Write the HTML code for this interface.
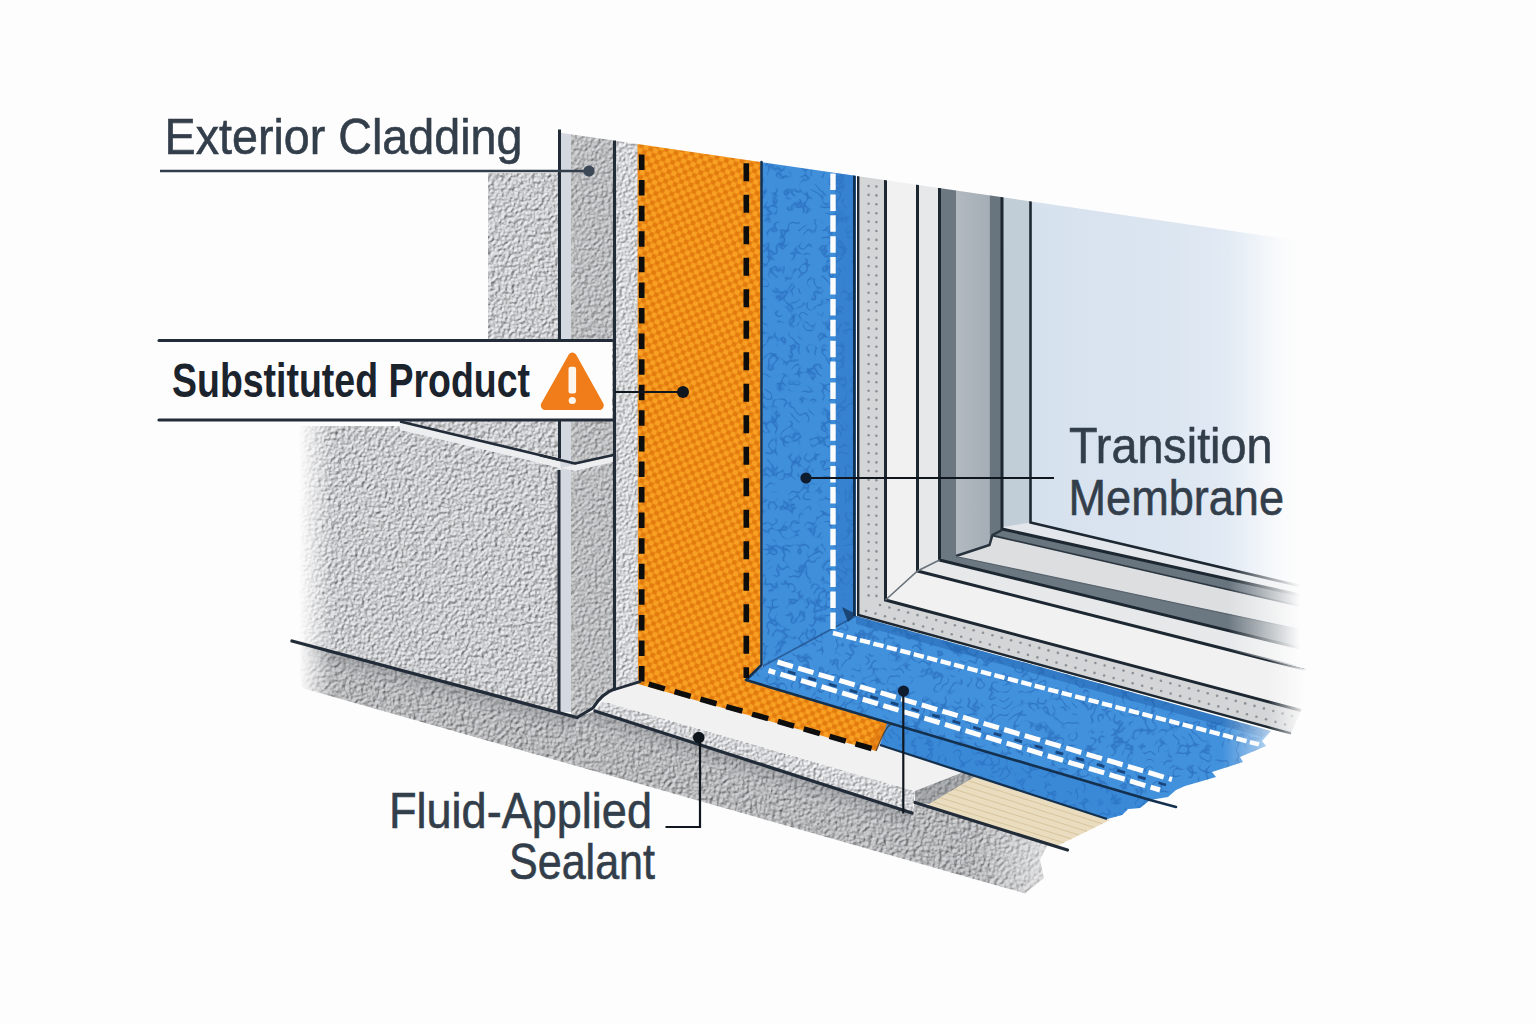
<!DOCTYPE html>
<html><head><meta charset="utf-8"><title>Window flashing detail</title>
<style>
html,body{margin:0;padding:0;background:#fdfdfd;}
body{width:1536px;height:1024px;overflow:hidden;font-family:"Liberation Sans",sans-serif;}
svg{display:block;font-family:"Liberation Sans",sans-serif;}
</style></head><body>
<svg width="1536" height="1024" viewBox="0 0 1536 1024">
<defs>

<filter id="stucco" x="0" y="0" width="100%" height="100%" color-interpolation-filters="sRGB">
  <feTurbulence type="fractalNoise" baseFrequency="0.3" numOctaves="2" seed="3" result="n"/>
  <feDiffuseLighting in="n" surfaceScale="1.55" diffuseConstant="0.945" lighting-color="#fbfcff" result="l">
    <feDistantLight azimuth="225" elevation="60"/>
  </feDiffuseLighting>
  <feComposite in="l" in2="SourceGraphic" operator="in"/>
</filter>
<filter id="stuccoL" x="0" y="0" width="100%" height="100%" color-interpolation-filters="sRGB">
  <feTurbulence type="fractalNoise" baseFrequency="0.33" numOctaves="2" seed="8" result="n"/>
  <feDiffuseLighting in="n" surfaceScale="1.3" diffuseConstant="0.985" lighting-color="#fbfcff" result="l">
    <feDistantLight azimuth="225" elevation="60"/>
  </feDiffuseLighting>
  <feComposite in="l" in2="SourceGraphic" operator="in"/>
</filter>
<filter id="stuccoD" x="0" y="0" width="100%" height="100%" color-interpolation-filters="sRGB">
  <feTurbulence type="fractalNoise" baseFrequency="0.3" numOctaves="2" seed="5" result="n"/>
  <feDiffuseLighting in="n" surfaceScale="1.3" diffuseConstant="0.87" lighting-color="#fbfcff" result="l">
    <feDistantLight azimuth="225" elevation="60"/>
  </feDiffuseLighting>
  <feComposite in="l" in2="SourceGraphic" operator="in"/>
</filter>
<filter id="stuccoB" x="0" y="0" width="100%" height="100%" color-interpolation-filters="sRGB">
  <feTurbulence type="fractalNoise" baseFrequency="0.27" numOctaves="2" seed="9" result="n"/>
  <feDiffuseLighting in="n" surfaceScale="1.6" diffuseConstant="0.85" lighting-color="#fbfcff" result="l">
    <feDistantLight azimuth="225" elevation="60"/>
  </feDiffuseLighting>
  <feComposite in="l" in2="SourceGraphic" operator="in"/>
</filter>
<filter id="bluetex" x="0" y="0" width="100%" height="100%" color-interpolation-filters="sRGB">
  <feTurbulence type="fractalNoise" baseFrequency="0.13" numOctaves="1" seed="11" result="n"/>
  <feColorMatrix in="n" type="matrix" values="0 0 0 0 0.13  0 0 0 0 0.38  0 0 0 0 0.70  1 0 0 0 0" result="a"/>
  <feComponentTransfer in="a" result="b"><feFuncA type="table" tableValues="0 0 0 0 0 0 0.6 0 0 0 0 0 0"/></feComponentTransfer>
  <feTurbulence type="fractalNoise" baseFrequency="0.09" numOctaves="1" seed="23" result="n2"/>
  <feColorMatrix in="n2" type="matrix" values="0 0 0 0 0  0 0 0 0 0  0 0 0 0 0  0 1 0 0 0" result="a2"/>
  <feComponentTransfer in="a2" result="m"><feFuncA type="table" tableValues="0 0 0 0 0 0 1 1 1 1 1 1"/></feComponentTransfer>
  <feComposite in="b" in2="m" operator="in" result="arcs"/>
  <feComposite in="arcs" in2="SourceGraphic" operator="in" result="dd"/>
  <feMerge><feMergeNode in="SourceGraphic"/><feMergeNode in="dd"/></feMerge>
</filter>
<pattern id="weave" width="10" height="10" patternUnits="userSpaceOnUse" patternTransform="rotate(20)">
  <rect width="10" height="10" fill="#ee8a14"/>
  <circle cx="2.5" cy="2.5" r="2.6" fill="#f8a024"/>
  <circle cx="7.5" cy="7.5" r="2.6" fill="#f8a024"/>
  <circle cx="7.5" cy="2.5" r="2.3" fill="#e27b0e"/>
  <circle cx="2.5" cy="7.5" r="2.3" fill="#e27b0e"/>
</pattern>
<pattern id="dots" width="9.5" height="9.5" patternUnits="userSpaceOnUse" x="863" y="180">
  <rect width="9.5" height="9.5" fill="#d4d5d7"/>
  <circle cx="4.75" cy="4.75" r="1.35" fill="#8f9295"/>
</pattern>
<linearGradient id="glass" gradientUnits="userSpaceOnUse" x1="1031" y1="0" x2="1300" y2="0">
  <stop offset="0" stop-color="#d6e1ee"/>
  <stop offset="0.55" stop-color="#dce6f1"/>
  <stop offset="0.85" stop-color="#e6edf6"/>
  <stop offset="1" stop-color="#f4f7fb"/>
</linearGradient>
<linearGradient id="fadeR" gradientUnits="userSpaceOnUse" x1="1228" y1="0" x2="1300" y2="0">
  <stop offset="0" stop-color="#fdfdfd" stop-opacity="0"/>
  <stop offset="1" stop-color="#fdfdfd" stop-opacity="1"/>
</linearGradient>
<linearGradient id="fadeR2" gradientUnits="userSpaceOnUse" x1="1268" y1="0" x2="1306" y2="0">
  <stop offset="0" stop-color="#fdfdfd" stop-opacity="0"/>
  <stop offset="1" stop-color="#fdfdfd" stop-opacity="1"/>
</linearGradient>
<linearGradient id="baseShade" gradientUnits="userSpaceOnUse" x1="292" y1="641" x2="287.3" y2="658.4">
  <stop offset="0" stop-color="#70757a" stop-opacity="0.38"/>
  <stop offset="1" stop-color="#70757a" stop-opacity="0"/>
</linearGradient>
<linearGradient id="baseShade2" gradientUnits="userSpaceOnUse" x1="595" y1="711" x2="589.5" y2="728.1">
  <stop offset="0" stop-color="#70757a" stop-opacity="0.38"/>
  <stop offset="1" stop-color="#70757a" stop-opacity="0"/>
</linearGradient>
<linearGradient id="fadeB1" gradientUnits="userSpaceOnUse" x1="1222" y1="0" x2="1278" y2="0">
  <stop offset="0" stop-color="#fdfdfd" stop-opacity="0"/>
  <stop offset="1" stop-color="#fdfdfd" stop-opacity="0.72"/>
</linearGradient>
<linearGradient id="fadeB2" gradientUnits="userSpaceOnUse" x1="1170" y1="740" x2="1189" y2="776">
  <stop offset="0" stop-color="#fdfdfd" stop-opacity="0"/>
  <stop offset="1" stop-color="#fdfdfd" stop-opacity="0.5"/>
</linearGradient>
<linearGradient id="fadeBase" gradientUnits="userSpaceOnUse" x1="975" y1="0" x2="1048" y2="0">
  <stop offset="0" stop-color="#fdfdfd" stop-opacity="0"/>
  <stop offset="1" stop-color="#fdfdfd" stop-opacity="0.55"/>
</linearGradient>
<linearGradient id="fadeL" gradientUnits="userSpaceOnUse" x1="299" y1="0" x2="332" y2="0">
  <stop offset="0" stop-color="#fdfdfd" stop-opacity="1"/>
  <stop offset="1" stop-color="#fdfdfd" stop-opacity="0"/>
</linearGradient>
<linearGradient id="medgray" gradientUnits="userSpaceOnUse" x1="956" y1="0" x2="989" y2="0">
  <stop offset="0" stop-color="#b2bac0"/><stop offset="1" stop-color="#a5aeb6"/>
</linearGradient>
<clipPath id="wall"><polygon points="540.0,129.7 1330.0,245.1 1330.0,1024.0 540.0,1024.0"/></clipPath></defs>
<rect width="1536" height="1024" fill="#fdfdfd"/>
<polygon points="292.0,641.0 577.0,717.5 595.0,711.0 912.0,813.0 915.0,802.5 1048.0,844.0 1040.0,860.0 1044.0,878.0 1025.0,893.5 302.0,688.0" fill="#c9cbcd" filter="url(#stuccoB)"/>
<polygon points="292.0,641.0 577.0,717.5 572.0,737.0 287.0,660.0" fill="url(#baseShade)"/>
<rect x="970" y="800" width="90" height="110" fill="url(#fadeBase)"/>
<polygon points="577.0,717.5 595.0,711.0 912.0,813.0 906.0,832.0 572.0,737.0" fill="url(#baseShade2)"/>
<polygon points="488.0,173.0 560.0,173.0 560.0,458.0 400.0,421.0 488.0,421.0" fill="#cfd1d3" filter="url(#stucco)"/>
<polygon points="296.0,426.0 400.0,426.0 560.0,468.0 560.0,713.0 292.0,641.0" fill="#cfd1d3" filter="url(#stucco)"/>
<polygon points="400.0,422.0 575.0,463.5 613.0,455.0 613.0,462.0 575.0,471.0 400.0,430.0" fill="#eceef0"/>
<polyline points="400.0,421.5 575.0,463.5 613.5,455.0" fill="none" stroke="#222c38" stroke-width="2.6" stroke-linejoin="round"/>
<g clip-path="url(#wall)">
<rect x="560.5" y="120" width="10.5" height="592" fill="#d4d8e0"/>
<polygon points="571.0,120.0 613.5,120.0 613.5,689.0 606.0,693.0 598.0,700.0 592.0,709.0 577.0,717.5 571.0,716.0" fill="#c4c6c8" filter="url(#stuccoD)"/>
<polygon points="615.5,120.0 638.0,120.0 638.0,684.0 615.5,690.0" fill="#d4d6d8" filter="url(#stuccoL)"/>
</g>
<polygon points="575.0,464.5 613.0,456.0 613.0,462.0 575.0,471.0 561.0,468.0" fill="#eceef0"/>
<polyline points="540.0,455.2 575.0,463.5 613.5,455.0" fill="none" stroke="#222c38" stroke-width="2.6" stroke-linejoin="round"/>
<polygon points="594.0,711.0 602.5,701.0 915.0,791.0 912.0,813.5" fill="#c9cbcd" filter="url(#stuccoL)"/>
<polygon points="613.5,689.0 638.5,682.5 876.0,751.0 880.0,745.0 962.5,772.5 915.0,791.0 602.5,701.0 606.0,694.0" fill="#f1f1f1"/>
<polygon points="915.0,791.0 962.5,772.5 976.0,777.0 930.0,804.0 915.0,802.5" fill="#b4b6b9" filter="url(#stuccoD)"/>
<polygon points="915.0,791.0 962.5,772.5 976.0,777.0 930.0,804.0 915.0,802.5" fill="#5d6267" opacity="0.3"/>
<polygon points="926.0,806.0 975.0,776.5 1110.0,820.0 1056.0,846.5" fill="#e9dcbf"/>
<line x1="933.0" y1="801.8" x2="1063.7" y2="842.7" stroke="#d8c59d" stroke-width="1"/>
<line x1="940.0" y1="797.6" x2="1071.4" y2="838.9" stroke="#d8c59d" stroke-width="1"/>
<line x1="947.0" y1="793.4" x2="1079.1" y2="835.1" stroke="#d8c59d" stroke-width="1"/>
<line x1="954.0" y1="789.1" x2="1086.9" y2="831.4" stroke="#d8c59d" stroke-width="1"/>
<line x1="961.0" y1="784.9" x2="1094.6" y2="827.6" stroke="#d8c59d" stroke-width="1"/>
<line x1="968.0" y1="780.7" x2="1102.3" y2="823.8" stroke="#d8c59d" stroke-width="1"/>
<g clip-path="url(#wall)">
<path d="M637.5,120 L760.5,120 L760.5,664 L746,680 L892,723.3 C885,727 881,740 876,751 L638,684 Z" fill="url(#weave)"/>
</g>
<path d="M892,723.3 C885,727 881,740 876,751 L868,748.5 C872,738 877,727 884,721 Z" fill="#d9720f" opacity="0.5"/>
<g clip-path="url(#wall)">
<polygon points="762.0,120.0 856.0,120.0 856.0,616.0 763.0,666.0" fill="#3f8fdb" filter="url(#bluetex)"/>
<polygon points="835.0,120.0 856.0,120.0 856.0,616.0 835.0,628.0" fill="#2f78c6" opacity="0.55"/>
</g>
<polygon points="763.0,666.0 856.0,616.0 1271.0,731.0 1262.0,741.0 1266.0,746.0 1240.0,757.0 1243.0,762.0 1212.0,772.0 1216.0,777.0 1185.0,786.0 1176.0,790.0 1168.0,797.0 1150.0,800.0 1140.0,808.0 1128.0,809.0 1122.0,815.0 1107.0,819.0 880.0,745.0 887.5,722.0 746.0,680.0" fill="#4291dc" filter="url(#bluetex)"/>
<polygon points="887.5,722.5 1150.0,800.0 1140.0,808.0 1128.0,809.0 1122.0,815.0 1107.0,819.0 880.0,745.0" fill="#2a78cc" opacity="0.32"/>
<polygon points="856.0,616.0 1271.0,731.0 1262.0,737.0 856.0,624.0" fill="#1f5fa8" opacity="0.45"/>
<polyline points="761.5,162.1 761.5,665.0 746.0,680.0 887.5,722.5 1150.0,800.0 1176.0,807.0" fill="none" stroke="#14304f" stroke-width="2.6" stroke-linejoin="round" stroke-linecap="round"/>
<polyline points="880.0,745.0 1107.0,819.0" fill="none" stroke="#14304f" stroke-width="2.2"/>
<line x1="763" y1="666" x2="856" y2="616" stroke="#1d4f8c" stroke-width="1.6" opacity="0.8"/>
<path d="M892,723.3 C885,727 881,740 876,751" fill="none" stroke="#3a2a18" stroke-width="1.4" opacity="0.7"/>
<line x1="833" y1="173.5" x2="833" y2="632" stroke="#fdfdfd" stroke-width="5.4" stroke-dasharray="16.5 4.4"/>
<line x1="833" y1="633" x2="1259" y2="744.4" stroke="#fdfdfd" stroke-width="4.4" stroke-dasharray="10.5 3.4"/>
<line x1="777.5" y1="662" x2="1172" y2="779.5" stroke="#fdfdfd" stroke-width="5" stroke-dasharray="16 5.5"/>
<line x1="768.5" y1="670.5" x2="1160" y2="790" stroke="#fdfdfd" stroke-width="5" stroke-dasharray="16 5.5" stroke-dashoffset="9"/>
<line x1="784" y1="670.5" x2="1166" y2="785" stroke="#123a6e" stroke-width="2.8" stroke-dasharray="8 13.5" stroke-dashoffset="-4" opacity="0.85"/>
<line x1="641.7" y1="154.5" x2="641.7" y2="681.6" stroke="#0d0d0d" stroke-width="5.7" stroke-dasharray="15.5 10.08"/>
<line x1="746.3" y1="163.3" x2="746.3" y2="678" stroke="#0d0d0d" stroke-width="5.6" stroke-dasharray="18 13.5"/>
<line x1="648.7" y1="684.2" x2="873" y2="748.9" stroke="#0d0d0d" stroke-width="5.5" stroke-dasharray="16.8 10.1"/>
<polygon points="1195.0,690.0 1290.0,720.0 1290.0,770.0 1195.0,790.0" fill="url(#fadeB1)"/>
<g clip-path="url(#wall)">
<polygon points="858.0,120.0 885.5,120.0 885.5,600.0 1301.0,710.5 1291.0,733.4 856.5,615.0" fill="#d4d5d7"/>
<g fill="#8d9094"><circle cx="868.6" cy="186.0" r="1.3"/><circle cx="876.4" cy="186.5" r="1.3"/><circle cx="868.6" cy="194.9" r="1.3"/><circle cx="876.4" cy="195.4" r="1.3"/><circle cx="868.6" cy="203.8" r="1.3"/><circle cx="876.4" cy="204.3" r="1.3"/><circle cx="868.6" cy="212.7" r="1.3"/><circle cx="876.4" cy="213.2" r="1.3"/><circle cx="868.6" cy="221.6" r="1.3"/><circle cx="876.4" cy="222.1" r="1.3"/><circle cx="868.6" cy="230.5" r="1.3"/><circle cx="876.4" cy="231.0" r="1.3"/><circle cx="868.6" cy="239.4" r="1.3"/><circle cx="876.4" cy="239.9" r="1.3"/><circle cx="868.6" cy="248.3" r="1.3"/><circle cx="876.4" cy="248.8" r="1.3"/><circle cx="868.6" cy="257.2" r="1.3"/><circle cx="876.4" cy="257.7" r="1.3"/><circle cx="868.6" cy="266.1" r="1.3"/><circle cx="876.4" cy="266.6" r="1.3"/><circle cx="868.6" cy="275.0" r="1.3"/><circle cx="876.4" cy="275.5" r="1.3"/><circle cx="868.6" cy="283.9" r="1.3"/><circle cx="876.4" cy="284.4" r="1.3"/><circle cx="868.6" cy="292.8" r="1.3"/><circle cx="876.4" cy="293.3" r="1.3"/><circle cx="868.6" cy="301.7" r="1.3"/><circle cx="876.4" cy="302.2" r="1.3"/><circle cx="868.6" cy="310.6" r="1.3"/><circle cx="876.4" cy="311.1" r="1.3"/><circle cx="868.6" cy="319.5" r="1.3"/><circle cx="876.4" cy="320.0" r="1.3"/><circle cx="868.6" cy="328.4" r="1.3"/><circle cx="876.4" cy="328.9" r="1.3"/><circle cx="868.6" cy="337.3" r="1.3"/><circle cx="876.4" cy="337.8" r="1.3"/><circle cx="868.6" cy="346.2" r="1.3"/><circle cx="876.4" cy="346.7" r="1.3"/><circle cx="868.6" cy="355.1" r="1.3"/><circle cx="876.4" cy="355.6" r="1.3"/><circle cx="868.6" cy="364.0" r="1.3"/><circle cx="876.4" cy="364.5" r="1.3"/><circle cx="868.6" cy="372.9" r="1.3"/><circle cx="876.4" cy="373.4" r="1.3"/><circle cx="868.6" cy="381.8" r="1.3"/><circle cx="876.4" cy="382.3" r="1.3"/><circle cx="868.6" cy="390.7" r="1.3"/><circle cx="876.4" cy="391.2" r="1.3"/><circle cx="868.6" cy="399.6" r="1.3"/><circle cx="876.4" cy="400.1" r="1.3"/><circle cx="868.6" cy="408.5" r="1.3"/><circle cx="876.4" cy="409.0" r="1.3"/><circle cx="868.6" cy="417.4" r="1.3"/><circle cx="876.4" cy="417.9" r="1.3"/><circle cx="868.6" cy="426.3" r="1.3"/><circle cx="876.4" cy="426.8" r="1.3"/><circle cx="868.6" cy="435.2" r="1.3"/><circle cx="876.4" cy="435.7" r="1.3"/><circle cx="868.6" cy="444.1" r="1.3"/><circle cx="876.4" cy="444.6" r="1.3"/><circle cx="868.6" cy="453.0" r="1.3"/><circle cx="876.4" cy="453.5" r="1.3"/><circle cx="868.6" cy="461.9" r="1.3"/><circle cx="876.4" cy="462.4" r="1.3"/><circle cx="868.6" cy="470.8" r="1.3"/><circle cx="876.4" cy="471.3" r="1.3"/><circle cx="868.6" cy="479.7" r="1.3"/><circle cx="876.4" cy="480.2" r="1.3"/><circle cx="868.6" cy="488.6" r="1.3"/><circle cx="876.4" cy="489.1" r="1.3"/><circle cx="868.6" cy="497.5" r="1.3"/><circle cx="876.4" cy="498.0" r="1.3"/><circle cx="868.6" cy="506.4" r="1.3"/><circle cx="876.4" cy="506.9" r="1.3"/><circle cx="868.6" cy="515.3" r="1.3"/><circle cx="876.4" cy="515.8" r="1.3"/><circle cx="868.6" cy="524.2" r="1.3"/><circle cx="876.4" cy="524.7" r="1.3"/><circle cx="868.6" cy="533.1" r="1.3"/><circle cx="876.4" cy="533.6" r="1.3"/><circle cx="868.6" cy="542.0" r="1.3"/><circle cx="876.4" cy="542.5" r="1.3"/><circle cx="868.6" cy="550.9" r="1.3"/><circle cx="876.4" cy="551.4" r="1.3"/><circle cx="868.6" cy="559.8" r="1.3"/><circle cx="876.4" cy="560.3" r="1.3"/><circle cx="868.6" cy="568.7" r="1.3"/><circle cx="876.4" cy="569.2" r="1.3"/><circle cx="868.6" cy="577.6" r="1.3"/><circle cx="876.4" cy="578.1" r="1.3"/><circle cx="868.6" cy="586.5" r="1.3"/><circle cx="876.4" cy="587.0" r="1.3"/><circle cx="868.6" cy="595.4" r="1.3"/><circle cx="876.4" cy="595.9" r="1.3"/><circle cx="866.0" cy="611.0" r="1.3"/><circle cx="875.5" cy="613.6" r="1.3"/><circle cx="885.0" cy="616.2" r="1.3"/><circle cx="894.6" cy="618.7" r="1.3"/><circle cx="904.1" cy="621.3" r="1.3"/><circle cx="913.6" cy="623.9" r="1.3"/><circle cx="923.1" cy="626.5" r="1.3"/><circle cx="932.7" cy="629.1" r="1.3"/><circle cx="942.2" cy="631.6" r="1.3"/><circle cx="951.7" cy="634.2" r="1.3"/><circle cx="961.2" cy="636.8" r="1.3"/><circle cx="970.8" cy="639.4" r="1.3"/><circle cx="980.3" cy="642.0" r="1.3"/><circle cx="989.8" cy="644.5" r="1.3"/><circle cx="999.3" cy="647.1" r="1.3"/><circle cx="1008.8" cy="649.7" r="1.3"/><circle cx="1018.4" cy="652.3" r="1.3"/><circle cx="1027.9" cy="654.9" r="1.3"/><circle cx="1037.4" cy="657.4" r="1.3"/><circle cx="1046.9" cy="660.0" r="1.3"/><circle cx="1056.5" cy="662.6" r="1.3"/><circle cx="1066.0" cy="665.2" r="1.3"/><circle cx="1075.5" cy="667.8" r="1.3"/><circle cx="1085.0" cy="670.3" r="1.3"/><circle cx="1094.5" cy="672.9" r="1.3"/><circle cx="1104.1" cy="675.5" r="1.3"/><circle cx="1113.6" cy="678.1" r="1.3"/><circle cx="1123.1" cy="680.6" r="1.3"/><circle cx="1132.6" cy="683.2" r="1.3"/><circle cx="1142.2" cy="685.8" r="1.3"/><circle cx="1151.7" cy="688.4" r="1.3"/><circle cx="1161.2" cy="691.0" r="1.3"/><circle cx="1170.7" cy="693.5" r="1.3"/><circle cx="1180.2" cy="696.1" r="1.3"/><circle cx="1189.8" cy="698.7" r="1.3"/><circle cx="1199.3" cy="701.3" r="1.3"/><circle cx="1208.8" cy="703.9" r="1.3"/><circle cx="1218.3" cy="706.4" r="1.3"/><circle cx="1227.9" cy="709.0" r="1.3"/><circle cx="1237.4" cy="711.6" r="1.3"/><circle cx="1246.9" cy="714.2" r="1.3"/><circle cx="1256.4" cy="716.8" r="1.3"/><circle cx="1266.0" cy="719.3" r="1.3"/><circle cx="1275.5" cy="721.9" r="1.3"/><circle cx="1285.0" cy="724.5" r="1.3"/><circle cx="880.0" cy="605.0" r="1.3"/><circle cx="889.4" cy="607.5" r="1.3"/><circle cx="898.7" cy="610.0" r="1.3"/><circle cx="908.1" cy="612.6" r="1.3"/><circle cx="917.5" cy="615.1" r="1.3"/><circle cx="926.8" cy="617.6" r="1.3"/><circle cx="936.2" cy="620.1" r="1.3"/><circle cx="945.5" cy="622.7" r="1.3"/><circle cx="954.9" cy="625.2" r="1.3"/><circle cx="964.3" cy="627.7" r="1.3"/><circle cx="973.6" cy="630.2" r="1.3"/><circle cx="983.0" cy="632.8" r="1.3"/><circle cx="992.4" cy="635.3" r="1.3"/><circle cx="1001.7" cy="637.8" r="1.3"/><circle cx="1011.1" cy="640.3" r="1.3"/><circle cx="1020.5" cy="642.8" r="1.3"/><circle cx="1029.8" cy="645.4" r="1.3"/><circle cx="1039.2" cy="647.9" r="1.3"/><circle cx="1048.5" cy="650.4" r="1.3"/><circle cx="1057.9" cy="652.9" r="1.3"/><circle cx="1067.3" cy="655.5" r="1.3"/><circle cx="1076.6" cy="658.0" r="1.3"/><circle cx="1086.0" cy="660.5" r="1.3"/><circle cx="1095.4" cy="663.0" r="1.3"/><circle cx="1104.7" cy="665.5" r="1.3"/><circle cx="1114.1" cy="668.1" r="1.3"/><circle cx="1123.5" cy="670.6" r="1.3"/><circle cx="1132.8" cy="673.1" r="1.3"/><circle cx="1142.2" cy="675.6" r="1.3"/><circle cx="1151.5" cy="678.2" r="1.3"/><circle cx="1160.9" cy="680.7" r="1.3"/><circle cx="1170.3" cy="683.2" r="1.3"/><circle cx="1179.6" cy="685.7" r="1.3"/><circle cx="1189.0" cy="688.2" r="1.3"/><circle cx="1198.4" cy="690.8" r="1.3"/><circle cx="1207.7" cy="693.3" r="1.3"/><circle cx="1217.1" cy="695.8" r="1.3"/><circle cx="1226.5" cy="698.3" r="1.3"/><circle cx="1235.8" cy="700.9" r="1.3"/><circle cx="1245.2" cy="703.4" r="1.3"/><circle cx="1254.5" cy="705.9" r="1.3"/><circle cx="1263.9" cy="708.4" r="1.3"/><circle cx="1273.3" cy="711.0" r="1.3"/><circle cx="1282.6" cy="713.5" r="1.3"/><circle cx="1292.0" cy="716.0" r="1.3"/></g>
<polygon points="885.5,120.0 917.5,120.0 917.5,571.0 1306.0,669.5 1301.0,710.5 885.5,600.0" fill="#f1f1f1"/>
<polygon points="885.5,600.0 917.5,571.0 917.5,560.0 885.5,560.0" fill="#e4e5e6" opacity="0.0"/>
<polygon points="917.5,120.0 939.5,120.0 939.5,560.0 1306.0,649.5 1306.0,669.5 917.5,571.0" fill="#e6e8e9"/>
<polygon points="939.5,120.0 956.0,120.0 956.0,556.0 1300.0,629.0 1306.0,649.5 939.5,560.0" fill="#6c7881"/>
<polygon points="956.0,120.0 989.5,120.0 989.5,545.0 956.0,556.0" fill="url(#medgray)"/>
<polygon points="956.0,556.0 989.5,545.0 992.5,535.0 1300.0,605.5 1300.0,629.0" fill="#dcdee0"/>
<polygon points="989.5,120.0 1002.0,120.0 1002.0,529.0 1300.0,595.0 1300.0,605.5 992.5,535.0 989.5,545.0" fill="#68747e"/>
<polygon points="1002.0,120.0 1030.5,120.0 1030.5,522.5 1300.0,586.0 1300.0,595.0 1002.0,529.0" fill="#c1cdd7"/>
<polygon points="1003.0,527.0 1030.5,522.5 1300.0,586.0 1300.0,595.0 1002.0,530.0" fill="#e3e7eb"/>
<polygon points="1030.5,120.0 1330.0,120.0 1330.0,593.0 1030.5,522.5" fill="url(#glass)"/>
<polyline points="854.3,120.0 854.3,616.0" fill="none" stroke="#14304f" stroke-width="2.6" stroke-linejoin="miter"/>
<polyline points="858.2,120.0 858.2,615.0 1291.0,733.4" fill="none" stroke="#1c2731" stroke-width="2.4" stroke-linejoin="miter"/>
<polyline points="885.5,120.0 885.5,600.0 1301.0,710.5" fill="none" stroke="#1c2731" stroke-width="3" stroke-linejoin="miter"/>
<polyline points="917.5,120.0 917.5,571.0 1306.0,669.5" fill="none" stroke="#1c2731" stroke-width="3" stroke-linejoin="miter"/>
<polyline points="939.5,120.0 939.5,560.0 1306.0,649.5" fill="none" stroke="#1c2731" stroke-width="3" stroke-linejoin="miter"/>
<polyline points="1002.0,120.0 1002.0,529.0 1300.0,595.0" fill="none" stroke="#1c2731" stroke-width="3" stroke-linejoin="miter"/>
<polyline points="1030.5,120.0 1030.5,522.5 1300.0,586.0" fill="none" stroke="#1c2731" stroke-width="2.6" stroke-linejoin="miter"/>
<polyline points="885.5,600.0 917.5,571.0 939.5,560.0" fill="none" stroke="#6a737b" stroke-width="1.6" stroke-linejoin="miter"/>
<polyline points="956.0,556.0 989.5,545.0 992.5,535.0 1002.0,530.0" fill="none" stroke="#27323c" stroke-width="2.4" stroke-linejoin="miter"/>
<polyline points="992.5,535.5 1300.0,606.0" fill="none" stroke="#2b3640" stroke-width="1.8" stroke-linejoin="miter"/>
<polyline points="956.0,556.5 1300.0,629.5" fill="none" stroke="#59646e" stroke-width="1.2" stroke-linejoin="miter"/>
</g>
<path d="M842,607 L856,614 L848,622 Z" fill="#123055" opacity="0.75"/>
<polygon points="1200.0,150.0 1345.0,150.0 1345.0,679.0 1200.0,642.6" fill="url(#fadeR)"/>
<polygon points="1200.0,642.6 1345.0,679.0 1345.0,770.0 1200.0,770.0" fill="url(#fadeR2)"/>
<rect x="280" y="420" width="90" height="360" fill="url(#fadeL)"/>
<line x1="559.5" y1="129.5" x2="559.5" y2="458.5" stroke="#222c38" stroke-width="3"/>
<line x1="559" y1="470" x2="559" y2="712" stroke="#222c38" stroke-width="3.1"/>
<path d="M614.5,140.6 L614.5,689 C606,692 599,698 593,708 L577,717.5" fill="none" stroke="#222c38" stroke-width="3.1" stroke-linejoin="round"/>
<line x1="614.5" y1="689.5" x2="640" y2="681.6" stroke="#222c38" stroke-width="2.8" stroke-linecap="round"/>
<polyline points="292.0,641.0 577.0,717.5" fill="none" stroke="#222c38" stroke-width="3.3" stroke-linecap="round"/>
<polyline points="595.0,711.0 912.0,813.0" fill="none" stroke="#222c38" stroke-width="3.3" stroke-linecap="round"/>
<polyline points="915.0,802.5 1067.5,850.0" fill="none" stroke="#222c38" stroke-width="3.2" stroke-linecap="round"/>
<text x="164.5" y="154" font-size="50.4" fill="#333e4b" stroke="#333e4b" stroke-width="0.6" textLength="358" lengthAdjust="spacingAndGlyphs">Exterior Cladding</text>
<line x1="160" y1="171" x2="589" y2="171" stroke="#333e4b" stroke-width="2.4"/>
<circle cx="589" cy="171" r="5.6" fill="#3c4855"/>
<rect x="159" y="340.5" width="453" height="79.5" rx="3" fill="#fdfdfd"/>
<line x1="159" y1="340.5" x2="612" y2="340.5" stroke="#222c38" stroke-width="3" stroke-linecap="round"/>
<line x1="159" y1="420" x2="612" y2="420" stroke="#222c38" stroke-width="3.2" stroke-linecap="round"/>
<text x="172" y="396.5" font-size="48" font-weight="bold" fill="#1b232d" textLength="358" lengthAdjust="spacingAndGlyphs">Substituted Product</text>
<path d="M572.4,357.1 L599.3,405.5 L545.3,405.5 Z" fill="#f07d1a" stroke="#f07d1a" stroke-width="9" stroke-linejoin="round"/>
<rect x="568.5" y="366.8" width="7.6" height="26.6" rx="2.2" fill="#fdf6ec"/>
<circle cx="572.3" cy="400.5" r="3.6" fill="#fdf6ec"/>
<line x1="615" y1="392" x2="683" y2="392" stroke="#10161d" stroke-width="2.2"/>
<circle cx="683" cy="392" r="6" fill="#10161d"/>
<line x1="806" y1="478" x2="1054" y2="478" stroke="#10161d" stroke-width="2.2"/>
<circle cx="806" cy="478" r="5.6" fill="#0f1c30"/>
<text x="1069" y="463" font-size="50.4" fill="#333e4b" stroke="#333e4b" stroke-width="0.6" textLength="203.5" lengthAdjust="spacingAndGlyphs">Transition</text>
<text x="1068.5" y="514.5" font-size="50.4" fill="#333e4b" stroke="#333e4b" stroke-width="0.6" textLength="215.5" lengthAdjust="spacingAndGlyphs">Membrane</text>
<line x1="903.3" y1="691" x2="903.3" y2="813.5" stroke="#10161d" stroke-width="2.2"/>
<circle cx="903.5" cy="691" r="5.6" fill="#0f1c30"/>
<polyline points="698.8,737.5 700.0,737.5 700.0,827.0 665.5,827.0" fill="none" stroke="#10161d" stroke-width="2.2"/>
<circle cx="698.75" cy="737.5" r="5.8" fill="#10161d"/>
<text x="389" y="828" font-size="50.4" fill="#333e4b" stroke="#333e4b" stroke-width="0.6" textLength="263" lengthAdjust="spacingAndGlyphs">Fluid-Applied</text>
<text x="509" y="879" font-size="50.4" fill="#333e4b" stroke="#333e4b" stroke-width="0.6" textLength="146" lengthAdjust="spacingAndGlyphs">Sealant</text>
</svg>
</body></html>
